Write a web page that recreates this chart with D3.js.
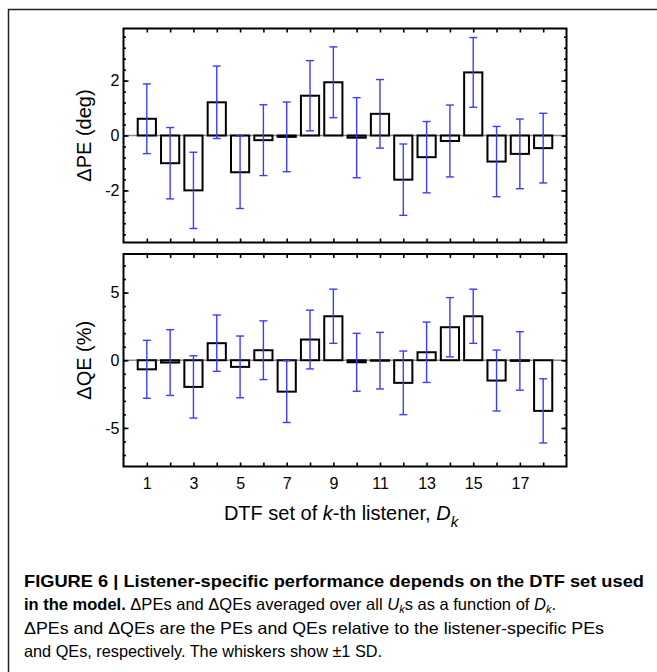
<!DOCTYPE html>
<html>
<head>
<meta charset="utf-8">
<script src="https://cdn.jsdelivr.net/npm/d3@7"></script>
<style>
  body { margin: 0; background: #fff; }
  svg { display: block; font-family: "Liberation Sans", Arial, sans-serif; }
  .caption { font-family: "Liberation Sans", sans-serif; font-size: 16.5px; }
</style>
</head>
<body>
<div id="chart"></div>
<script>
// DTF set index D_k
const listeners = d3.range(1, 19)
// ΔPE (deg): mean and SD per DTF set
const pe = [0.61, -1.01, -2.0, 1.21, -1.34, -0.17, -0.05, 1.45, 1.94, -0.08, 0.79, -1.61, -0.79, -0.2, 2.3, -0.95, -0.67, -0.46]
const peSd = [1.27, 1.3, 1.39, 1.32, 1.32, 1.29, 1.27, 1.28, 1.29, 1.46, 1.25, 1.3, 1.3, 1.31, 1.27, 1.28, 1.27, 1.27]
// ΔQE (%): mean and SD per DTF set
const qe = [-0.67, -0.17, -1.97, 1.26, -0.49, 0.74, -2.32, 1.53, 3.25, -0.15, -0.03, -1.67, 0.59, 2.44, 3.25, -1.5, -0.05, -3.74]
const qeSd = [2.14, 2.43, 2.3, 2.08, 2.28, 2.17, 2.28, 2.17, 2.0, 2.14, 2.09, 2.35, 2.23, 2.19, 2.0, 2.25, 2.16, 2.37]
const xTickLabels = [1, 3, 5, 7, 9, 11, 13, 15, 17]

const width = 657, height = 672
const svg = d3.select('#chart').append('svg').attr('width', width).attr('height', height)

// outer figure border (top + left edges visible)
svg.append('path').attr('d', `M8.5,${height}V9.5H${width}`)
  .attr('fill', 'none').attr('stroke', '#222').attr('stroke-width', 1.5)

const x = d3.scaleLinear().domain([0, 19]).range([123.5, 566.5])
const blue = '#3c3cff'

const drawPanel = ({ values, sds, yDomain, top, bottom, majors, minors, title, showXLabels }) => {
  const y = d3.scaleLinear().domain(yDomain).range([bottom, top])
  const g = svg.append('g')
  const [x0, x1] = x.range()

  // zero line
  g.append('line').attr('x1', x0).attr('x2', x1).attr('y1', y(0)).attr('y2', y(0))
    .attr('stroke', '#8a8a8a').attr('stroke-width', 1.5)

  // bars
  g.selectAll('.bar').data(values).enter().append('rect')
    .attr('class', 'bar')
    .attr('x', (d, i) => x(listeners[i] - 0.39))
    .attr('width', x(0.78) - x(0))
    .attr('y', (d) => Math.min(y(d), y(0)))
    .attr('height', (d) => Math.max(Math.abs(y(d) - y(0)), 0.5))
    .attr('fill', 'none').attr('stroke', '#000').attr('stroke-width', 2)

  // whiskers
  const w = g.selectAll('.whisker').data(values).enter().append('g').attr('class', 'whisker')
    .attr('stroke', blue).attr('stroke-width', 1.4)
  w.append('line')
    .attr('x1', (d, i) => x(listeners[i])).attr('x2', (d, i) => x(listeners[i]))
    .attr('y1', (d, i) => y(d + sds[i])).attr('y2', (d, i) => y(d - sds[i]))
  ;[1, -1].forEach((s) => {
    w.append('line')
      .attr('x1', (d, i) => x(listeners[i]) - 4).attr('x2', (d, i) => x(listeners[i]) + 4)
      .attr('y1', (d, i) => y(d + s * sds[i])).attr('y2', (d, i) => y(d + s * sds[i]))
  })

  // ticks, all pointing inward
  const style = (sel) => {
    sel.select('.domain').remove()
    sel.selectAll('line').attr('stroke', '#000').attr('stroke-width', 1.6)
    sel.selectAll('text').attr('font-size', 16).attr('fill', '#000')
  }
  g.append('g').attr('transform', `translate(${x0},0)`)
    .call(d3.axisLeft(y).tickValues(minors).tickSize(-2.5).tickFormat('')).call(style)
  g.append('g').attr('transform', `translate(${x0},0)`)
    .call(d3.axisLeft(y).tickValues(majors).tickSize(-5).tickPadding(4).tickFormat((d) => String(d))).call(style)
  g.append('g').attr('transform', `translate(${x1},0)`)
    .call(d3.axisRight(y).tickValues(minors).tickSize(-2.5).tickFormat('')).call(style)
  g.append('g').attr('transform', `translate(${x1},0)`)
    .call(d3.axisRight(y).tickValues(majors).tickSize(-5).tickFormat('')).call(style)
  g.append('g').attr('transform', `translate(0,${top})`)
    .call(d3.axisTop(x).tickValues(listeners).tickSize(-4).tickFormat('')).call(style)
  g.append('g').attr('transform', `translate(0,${bottom})`)
    .call(d3.axisBottom(x).tickValues(listeners).tickSize(-4).tickPadding(11)
      .tickFormat((d) => (showXLabels && xTickLabels.includes(d) ? d : ''))).call(style)

  // frame
  g.append('rect').attr('x', x0).attr('y', top).attr('width', x1 - x0).attr('height', bottom - top)
    .attr('fill', 'none').attr('stroke', '#000').attr('stroke-width', 2)

  // y title
  g.append('text')
    .attr('transform', `translate(91,${(top + bottom) / 2}) rotate(-90)`)
    .attr('text-anchor', 'middle').attr('font-size', 20)
    .text('\u0394' + title)
}

drawPanel({
  values: pe, sds: peSd, yDomain: [-3.9, 3.9], top: 28.5, bottom: 242.5,
  majors: [-2, 0, 2], minors: d3.range(-9, 10).map((k) => k * 0.4), title: 'PE (deg)', showXLabels: false
})
drawPanel({
  values: qe, sds: qeSd, yDomain: [-7.85, 7.85], top: 254, bottom: 466.5,
  majors: [-5, 0, 5], minors: d3.range(-7, 8), title: 'QE (%)', showXLabels: true
})

// x axis title
const xt = svg.append('text').attr('x', 341).attr('y', 520).attr('text-anchor', 'middle').attr('font-size', 20)
xt.append('tspan').text('DTF set of ')
xt.append('tspan').attr('font-style', 'italic').text('k')
xt.append('tspan').text('-th listener, ')
xt.append('tspan').attr('font-style', 'italic').text('D')
xt.append('tspan').attr('font-style', 'italic').attr('font-size', 15).attr('dy', 7).text('k')

// caption, one text element per line stretched to the reference line widths
const lines = [
  [['b', 'FIGURE 6 | Listener-specific performance depends on the DTF set used']],
  [['b', 'in the model.'], ['n', ' \u0394PEs and \u0394QEs averaged over all '], ['i', 'U'], ['sub', 'k'], ['n', 's as a function of '], ['i', 'D'], ['sub', 'k'], ['n', '.']],
  [['n', '\u0394PEs and \u0394QEs are the PEs and QEs relative to the listener-specific PEs']],
  [['n', 'and QEs, respectively. The whiskers show \u00b11 SD.']]
]
const baselines = [587, 610, 634, 657]
const lineWidths = [620, 532, 580, 358]
lines.forEach((parts, li) => {
  const t = svg.append('text').attr('class', 'caption').attr('x', 24).attr('y', baselines[li])
    .attr('textLength', lineWidths[li]).attr('lengthAdjust', 'spacingAndGlyphs')
  parts.forEach(([kind, str]) => {
    const ts = t.append('tspan').text(str)
    if (kind === 'b') ts.attr('font-weight', 'bold')
    if (kind === 'i') ts.attr('font-style', 'italic').attr('y', baselines[li])
    if (kind === 'sub') ts.attr('font-style', 'italic').attr('font-size', 11).attr('y', baselines[li] + 3)
    if (kind === 'n') ts.attr('y', baselines[li])
  })
})
</script>
</body>
</html>
